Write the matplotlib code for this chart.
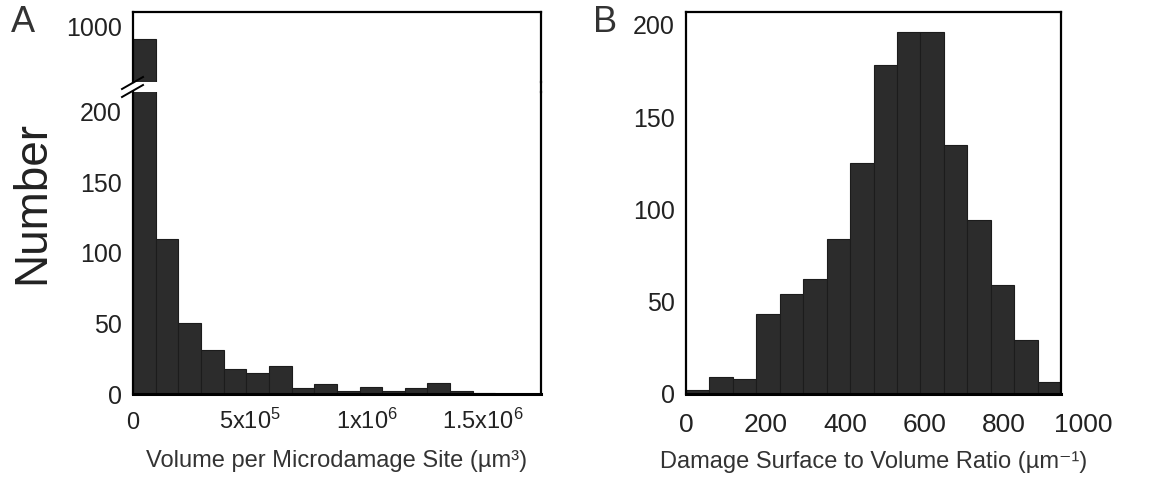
import numpy as np
import matplotlib
matplotlib.use('agg')
import matplotlib.pyplot as plt
from matplotlib.lines import Line2D

plt.rcParams['font.family'] = ['Liberation Sans', 'DejaVu Sans']
plt.rcParams['mathtext.default'] = 'regular'

# histogram of microdamage volume (um^3)
vol_bin_width = 9.7e4
vol_counts = [955, 110, 50, 31, 18, 15, 20, 4, 7, 2, 5, 2, 4, 8, 2, 1]
vol_ticks = [0, 5e5, 1e6, 1.5e6]
vol_ticklabels = ['0', '5x10$^{5}$', '1x10$^{6}$', '1.5x10$^{6}$']

# histogram of surface to volume ratio (um^-1)
ratio_bin_width = 59.0
ratio_counts = [2, 9, 8, 43, 54, 62, 84, 125, 178, 196, 196, 135, 94, 59, 29, 6]
ratio_ticks = [0, 200, 400, 600, 800, 1000]

W, H = 1173, 482
BAR = '#2c2c2c'
EDGE = '#1c1c1c'
TXT = '#222222'


def fig_rect(left, top, right, bottom):
    # pixel box -> figure fraction
    return [left / W, 1 - bottom / H, (right - left) / W, (bottom - top) / H]


def style(ax, size=18):
    for s in ax.spines.values():
        s.set_linewidth(1.6)
        s.set_color('black')
    ax.tick_params(length=0, labelsize=size, colors=TXT, pad=8)


fig = plt.figure(figsize=(W / 100, H / 100), dpi=100)

# panel A: broken y axis, two stacked axes
vol_edges = np.arange(len(vol_counts)) * vol_bin_width
ax_hi = fig.add_axes(fig_rect(133, 12, 541, 82))
ax_lo = fig.add_axes(fig_rect(133, 92, 541, 394))
for ax in (ax_hi, ax_lo):
    ax.bar(vol_edges, vol_counts, width=vol_bin_width, align='edge',
           color=BAR, edgecolor=EDGE, linewidth=0.8)
    style(ax)

ax_hi.set_ylim(800, 1050)
ax_hi.set_yticks([1000])
ax_hi.spines['bottom'].set_visible(False)
ax_hi.set_xticks([])
ax_hi.set_xlim(0, 1.747e6)

ax_lo.set_ylim(0, 214)
ax_lo.set_yticks([0, 50, 100, 150, 200])
ax_lo.spines['top'].set_visible(False)
ax_lo.spines['bottom'].set_linewidth(2.2)
ax_lo.set_xticks(vol_ticks)
ax_lo.set_xticklabels(vol_ticklabels, fontsize=17)
# line the labels up on their baseline so "0" sits level with the powers
ax_lo.tick_params(axis='x', pad=25)
for lbl in ax_lo.get_xticklabels():
    lbl.set_verticalalignment('baseline')
ax_lo.set_xlim(0, 1.747e6)
ax_lo.set_xlabel('Volume per Microdamage Site (µm³)', fontsize=17,
                 color='#333333', labelpad=12)

# right border runs through the gap, break marks on the left
fig.add_artist(Line2D([541 / W, 541 / W], [1 - 82 / H, 1 - 92 / H],
                      transform=fig.transFigure, color='black', lw=1.6))
for y0 in (89, 97):
    fig.add_artist(Line2D([122 / W, 143 / W], [1 - y0 / H, 1 - (y0 - 12) / H],
                          transform=fig.transFigure, color='black', lw=1.4))

fig.text(32 / W, 1 - 202 / H, 'Number', rotation=90, fontsize=33,
         color=TXT, ha='center', va='center')
fig.text(23 / W, 1 - 23 / H, 'A', fontsize=26, color='#333333',
         ha='center', va='center')

# panel B
ratio_edges = np.arange(len(ratio_counts)) * ratio_bin_width
ax_b = fig.add_axes(fig_rect(686, 12, 1061, 393.5))
ax_b.bar(ratio_edges, ratio_counts, width=ratio_bin_width, align='edge',
         color=BAR, edgecolor=EDGE, linewidth=0.8)
style(ax_b)
ax_b.spines['bottom'].set_linewidth(2.2)
ax_b.set_yticks([0, 50, 100, 150, 200])
ax_b.set_ylim(0, 207)
xmax = len(ratio_counts) * ratio_bin_width
inside = [t for t in ratio_ticks if t <= xmax]
ax_b.set_xticks(inside)
ax_b.set_xticklabels([str(t) for t in inside], fontsize=19)
ax_b.tick_params(axis='x', pad=14)
ax_b.set_xlim(0, xmax)
# the last label sits past the right edge of the axis
for t in ratio_ticks:
    if t > xmax:
        ax_b.annotate(str(t), xy=(t, 0), xycoords=ax_b.get_xaxis_transform(),
                      xytext=(0, -14), textcoords='offset points',
                      fontsize=19, color=TXT, ha='center', va='top',
                      annotation_clip=False)
ax_b.set_xlabel('Damage Surface to Volume Ratio (µm⁻¹)', fontsize=17,
                color='#333333', labelpad=10)
fig.text(605 / W, 1 - 23 / H, 'B', fontsize=26, color='#333333',
         ha='center', va='center')

fig.savefig('out.png', dpi=100)
